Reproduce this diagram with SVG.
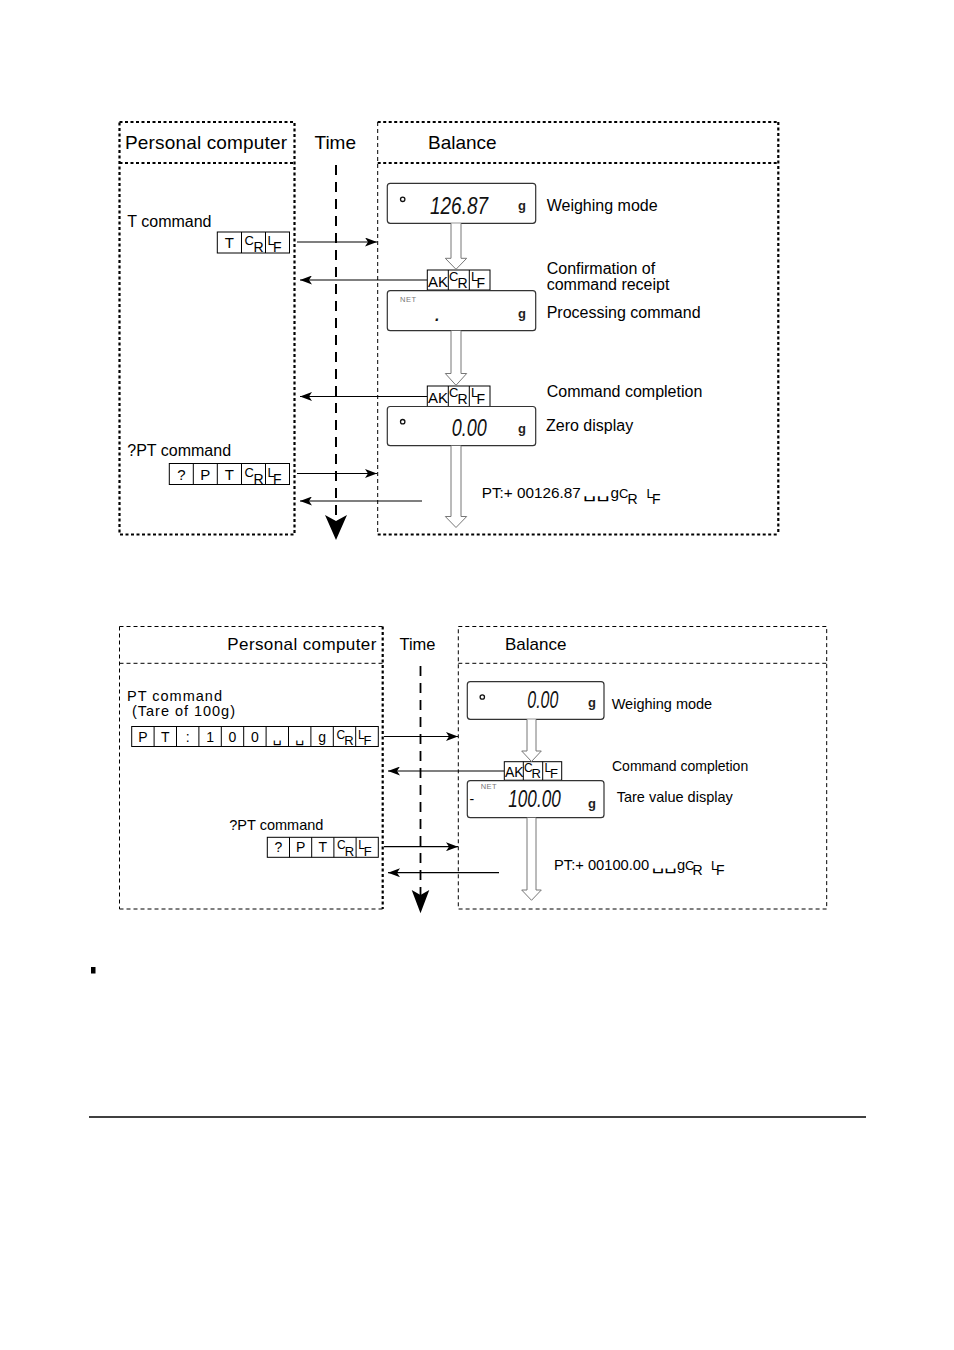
<svg xmlns="http://www.w3.org/2000/svg" width="954" height="1350" viewBox="0 0 954 1350">
<style>
text{font-family:"Liberation Sans",Arial,sans-serif;fill:#000}
.h1{font-size:19px}
.h2{font-size:17px}
.b1{font-size:16px}
.b2{font-size:14.5px}
.c1{font-size:15px}
.c2{font-size:14px}
.s12{font-size:13px}
.s14{font-size:14px}
.s11{font-size:12px}
.s13{font-size:13px}
.cell{fill:none;stroke:#000;stroke-width:1}
.disp{fill:#fff;stroke:#333;stroke-width:1.2}
.hol{fill:#fff;stroke:#777;stroke-width:1}
.msg{stroke:#000;stroke-width:1.2;fill:none}
.thick{fill:none;stroke:#000;stroke-width:2.2;stroke-dasharray:3 2.5}
.thin{fill:none;stroke:#000;stroke-width:1;stroke-dasharray:4 3}
.time1{stroke:#000;stroke-width:2;stroke-dasharray:10 7}
.time2{stroke:#000;stroke-width:1.8;stroke-dasharray:10 7}
.seg{font-family:"Liberation Sans Narrow","Liberation Sans",sans-serif;font-style:italic;font-size:23px;fill:#111}
.gs{font-size:13px;font-weight:bold;fill:#222}
.net{font-size:7.5px;fill:#777;letter-spacing:0.5px}
.sp{font-family:"DejaVu Sans",sans-serif}
</style>
<defs>
<marker id="ah" markerWidth="12" markerHeight="9" refX="12" refY="4.5" orient="auto" markerUnits="userSpaceOnUse">
<path d="M0,0 L12,4.5 L0,9 L3,4.5 z" fill="#000"/>
</marker>
</defs>

<!-- ===== Diagram 1 ===== -->
<g id="pc1">
<rect class="thick" x="119.5" y="122" width="175" height="412.5"/>
<line class="thick" x1="119.5" y1="163" x2="294.5" y2="163"/>
<text class="h1" x="125" y="149" textLength="162" lengthAdjust="spacing">Personal computer</text>
</g>
<g id="time1">
<text class="h1" x="314.5" y="149">Time</text>
<line class="time1" x1="336" y1="165" x2="336" y2="522"/>
<polygon points="325,515 336,540 347,515 336,521" fill="#000"/>
</g>
<g id="balance1">
<line class="thick" x1="377.7" y1="122" x2="778.3" y2="122"/>
<line class="thick" x1="377.7" y1="163" x2="778.3" y2="163"/>
<line class="thick" x1="778.3" y1="122" x2="778.3" y2="534.5"/>
<line class="thick" x1="377.7" y1="534.5" x2="778.3" y2="534.5"/>
<line class="thin" x1="377.7" y1="122" x2="377.7" y2="534.5"/>
<text class="h1" x="428" y="149">Balance</text>
</g>

<g id="tcmd">
<text class="b1" x="127.3" y="226.7">T command</text>
<rect class="cell" x="217.3" y="232" width="72.2" height="21"/>
<line class="cell" x1="241.5" y1="232" x2="241.5" y2="253"/>
<line class="cell" x1="265.5" y1="232" x2="265.5" y2="253"/>
<text class="c1" x="229.4" y="248" text-anchor="middle">T</text>
<text><tspan class="s12" x="244.5" y="245">C</tspan><tspan class="s14" x="253.5" y="252">R</tspan></text>
<text><tspan class="s12" x="267.5" y="245">L</tspan><tspan class="s14" x="273" y="252">F</tspan></text>
</g>

<g id="disp1">
<rect class="disp" x="387.3" y="183.3" width="148.4" height="40" rx="3"/>
<circle cx="402.7" cy="199.3" r="2.2" fill="none" stroke="#111" stroke-width="1.3"/>
<text class="seg" x="430" y="214" textLength="58" lengthAdjust="spacingAndGlyphs">126.87</text>
<text class="gs" x="518" y="209.7">g</text>
<text class="b1" x="546.7" y="211">Weighing mode</text>
</g>

<g id="ak1">
<rect class="cell" x="427.3" y="270" width="62.7" height="20"/>
<line class="cell" x1="448.3" y1="270" x2="448.3" y2="290"/>
<line class="cell" x1="469.3" y1="270" x2="469.3" y2="290"/>
<text class="c1" x="428" y="287">AK</text>
<text><tspan class="s12" x="449" y="280.5">C</tspan><tspan class="s14" x="457.5" y="287.5">R</tspan></text>
<text><tspan class="s12" x="471" y="280.5">L</tspan><tspan class="s14" x="476.5" y="287.5">F</tspan></text>
<text class="b1" x="546.7" y="273.5">Confirmation of</text>
<text class="b1" x="546.7" y="289.5">command receipt</text>
</g>

<g id="disp2">
<rect class="disp" x="387.3" y="290.7" width="148.4" height="40" rx="3"/>
<text class="net" x="400" y="301.5">NET</text>
<text class="seg" x="434.5" y="321">.</text>
<text class="gs" x="518" y="318.4">g</text>
<text class="b1" x="546.7" y="318">Processing command</text>
</g>

<g id="ak2">
<rect class="cell" x="427.3" y="386" width="62.7" height="20.5"/>
<line class="cell" x1="448.3" y1="386" x2="448.3" y2="406.5"/>
<line class="cell" x1="469.3" y1="386" x2="469.3" y2="406.5"/>
<text class="c1" x="428" y="403">AK</text>
<text><tspan class="s12" x="449" y="396.5">C</tspan><tspan class="s14" x="457.5" y="403.5">R</tspan></text>
<text><tspan class="s12" x="471" y="396.5">L</tspan><tspan class="s14" x="476.5" y="403.5">F</tspan></text>
<text class="b1" x="546.7" y="397">Command completion</text>
</g>

<g id="disp3">
<rect class="disp" x="387.3" y="406.5" width="148.4" height="39.2" rx="3"/>
<circle cx="402.7" cy="421.7" r="2.2" fill="none" stroke="#111" stroke-width="1.3"/>
<text class="seg" x="451.7" y="435.5" textLength="35" lengthAdjust="spacingAndGlyphs">0.00</text>
<text class="gs" x="518" y="433">g</text>
<text class="b1" x="546" y="431">Zero display</text>
</g>

<g id="ptq1">
<text class="b1" x="127.3" y="456">?PT command</text>
<rect class="cell" x="169.3" y="463.5" width="120.2" height="21"/>
<line class="cell" x1="193.3" y1="463.5" x2="193.3" y2="484.5"/>
<line class="cell" x1="217.3" y1="463.5" x2="217.3" y2="484.5"/>
<line class="cell" x1="241.5" y1="463.5" x2="241.5" y2="484.5"/>
<line class="cell" x1="265.5" y1="463.5" x2="265.5" y2="484.5"/>
<text class="c1" x="181.3" y="479.5" text-anchor="middle">?</text>
<text class="c1" x="205.3" y="479.5" text-anchor="middle">P</text>
<text class="c1" x="229.4" y="479.5" text-anchor="middle">T</text>
<text><tspan class="s12" x="244.5" y="476.5">C</tspan><tspan class="s14" x="253.5" y="483.5">R</tspan></text>
<text><tspan class="s12" x="267.5" y="476.5">L</tspan><tspan class="s14" x="273" y="483.5">F</tspan></text>
</g>

<g id="resp1">
<text style="font-size:15.3px" y="498.3"><tspan x="481.7">PT:+ 00126.87</tspan><tspan class="sp" x="583" textLength="27" lengthAdjust="spacingAndGlyphs">␣␣</tspan><tspan x="610.5">g</tspan></text>
<text><tspan class="s12" x="619" y="498">C</tspan><tspan class="s14" x="627.5" y="503.5">R</tspan></text>
<text><tspan class="s12" x="646.5" y="498">L</tspan><tspan class="s14" x="652" y="503.5">F</tspan></text>
</g>

<g id="connectors1">
<path class="hol" d="M451,223.3 V258.3 H445.3 L456,269.3 L466.7,258.3 H461 V223.3"/>
<path class="hol" d="M451,330.7 V373.5 H445.3 L456,385.3 L466.7,373.5 H461 V330.7"/>
<path class="hol" d="M451,445.7 V516.5 H445.3 L456,527.5 L466.7,516.5 H461 V445.7"/>
<line class="msg" x1="297" y1="242" x2="377" y2="242" marker-end="url(#ah)"/>
<line class="msg" x1="427" y1="280" x2="300" y2="280" marker-end="url(#ah)"/>
<line class="msg" x1="427" y1="396.5" x2="300" y2="396.5" marker-end="url(#ah)"/>
<line class="msg" x1="297" y1="473.5" x2="377" y2="473.5" marker-end="url(#ah)"/>
<line class="msg" x1="422" y1="501" x2="300" y2="501" marker-end="url(#ah)"/>
</g>

<!-- ===== Diagram 2 ===== -->
<g id="pc2">
<line class="thin" x1="119.5" y1="626.5" x2="382.7" y2="626.5"/>
<line class="thin" x1="119.5" y1="663.3" x2="382.7" y2="663.3"/>
<line class="thin" x1="119.5" y1="626.5" x2="119.5" y2="909"/>
<line class="thin" x1="119.5" y1="909" x2="382.7" y2="909"/>
<line class="thick" x1="382.7" y1="626.5" x2="382.7" y2="909"/>
<text class="h2" x="227.3" y="650" textLength="149" lengthAdjust="spacing">Personal computer</text>
</g>
<g id="time2">
<text class="h2" x="399.5" y="650" textLength="36" lengthAdjust="spacingAndGlyphs">Time</text>
<line class="time2" x1="420.5" y1="666" x2="420.5" y2="896"/>
<polygon points="411.7,890 420.5,913.3 429.3,890 420.5,895" fill="#000"/>
</g>
<g id="balance2">
<rect class="thin" x="458.3" y="626.5" width="368.4" height="282.5"/>
<line class="thin" x1="458.3" y1="663.3" x2="826.7" y2="663.3"/>
<text class="h2" x="505" y="650">Balance</text>
</g>

<g id="ptcmd">
<text class="b2" x="127" y="701" textLength="95" lengthAdjust="spacing">PT command</text>
<text class="b2" x="132" y="716" textLength="103" lengthAdjust="spacing">(Tare of 100g)</text>
<rect class="cell" x="131.7" y="726.5" width="246.6" height="20"/>
<line class="cell" x1="154.1" y1="726.5" x2="154.1" y2="746.5"/>
<line class="cell" x1="176.5" y1="726.5" x2="176.5" y2="746.5"/>
<line class="cell" x1="198.9" y1="726.5" x2="198.9" y2="746.5"/>
<line class="cell" x1="221.3" y1="726.5" x2="221.3" y2="746.5"/>
<line class="cell" x1="243.7" y1="726.5" x2="243.7" y2="746.5"/>
<line class="cell" x1="266.1" y1="726.5" x2="266.1" y2="746.5"/>
<line class="cell" x1="288.5" y1="726.5" x2="288.5" y2="746.5"/>
<line class="cell" x1="310.9" y1="726.5" x2="310.9" y2="746.5"/>
<line class="cell" x1="333.3" y1="726.5" x2="333.3" y2="746.5"/>
<line class="cell" x1="355.7" y1="726.5" x2="355.7" y2="746.5"/>
<text class="c2" x="142.9" y="741.5" text-anchor="middle">P</text>
<text class="c2" x="165.3" y="741.5" text-anchor="middle">T</text>
<text class="c2" x="187.7" y="741.5" text-anchor="middle">:</text>
<text class="c2" x="210.1" y="741.5" text-anchor="middle">1</text>
<text class="c2" x="232.5" y="741.5" text-anchor="middle">0</text>
<text class="c2" x="254.9" y="741.5" text-anchor="middle">0</text>
<text class="c2 sp" x="277.3" y="741.5" text-anchor="middle">␣</text>
<text class="c2 sp" x="299.7" y="741.5" text-anchor="middle">␣</text>
<text class="c2" x="322.1" y="741.5" text-anchor="middle">g</text>
<text><tspan class="s11" x="336.5" y="738.5">C</tspan><tspan class="s13" x="344.3" y="745">R</tspan></text>
<text><tspan class="s11" x="358" y="738.5">L</tspan><tspan class="s13" x="363.5" y="745">F</tspan></text>
</g>

<g id="disp4">
<rect class="disp" x="467.3" y="681.7" width="136.7" height="37.6" rx="3"/>
<circle cx="482.3" cy="697" r="2.2" fill="none" stroke="#111" stroke-width="1.3"/>
<text class="seg" x="527.3" y="708" textLength="31" lengthAdjust="spacingAndGlyphs">0.00</text>
<text class="gs" x="588" y="707">g</text>
<text class="b2" x="611.7" y="709">Weighing mode</text>
</g>

<g id="ak3">
<rect class="cell" x="504.3" y="761.7" width="57.4" height="18.5"/>
<line class="cell" x1="523.3" y1="761.7" x2="523.3" y2="780.2"/>
<line class="cell" x1="542.7" y1="761.7" x2="542.7" y2="780.2"/>
<text class="c2" x="505" y="777">AK</text>
<text><tspan class="s11" x="524" y="771.5">C</tspan><tspan class="s13" x="531.5" y="778">R</tspan></text>
<text><tspan class="s11" x="544.5" y="771.5">L</tspan><tspan class="s13" x="550" y="778">F</tspan></text>
<text style="font-size:14px" x="612" y="771">Command completion</text>
</g>

<g id="disp5">
<rect class="disp" x="467.3" y="780.7" width="136.7" height="37" rx="3"/>
<text class="net" x="480.7" y="788.5">NET</text>
<text class="c2" x="469.5" y="803.5">-</text>
<text class="seg" x="508.3" y="807" textLength="52.4" lengthAdjust="spacingAndGlyphs">100.00</text>
<text class="gs" x="588" y="808">g</text>
<text class="b2" x="616.7" y="802">Tare value display</text>
</g>

<g id="ptq2">
<text class="b2" x="229.3" y="830">?PT command</text>
<rect class="cell" x="267.3" y="837.3" width="111" height="20"/>
<line class="cell" x1="289.5" y1="837.3" x2="289.5" y2="857.3"/>
<line class="cell" x1="311.7" y1="837.3" x2="311.7" y2="857.3"/>
<line class="cell" x1="333.9" y1="837.3" x2="333.9" y2="857.3"/>
<line class="cell" x1="356.1" y1="837.3" x2="356.1" y2="857.3"/>
<text class="c2" x="278.4" y="852.3" text-anchor="middle">?</text>
<text class="c2" x="300.6" y="852.3" text-anchor="middle">P</text>
<text class="c2" x="322.8" y="852.3" text-anchor="middle">T</text>
<text><tspan class="s11" x="337" y="849.3">C</tspan><tspan class="s13" x="344.8" y="855.8">R</tspan></text>
<text><tspan class="s11" x="358.3" y="849.3">L</tspan><tspan class="s13" x="363.8" y="855.8">F</tspan></text>
</g>

<g id="resp2">
<text style="font-size:14.7px" y="869.7"><tspan x="554">PT:+ 00100.00</tspan><tspan class="sp" x="651.7" textLength="25" lengthAdjust="spacingAndGlyphs">␣␣</tspan><tspan x="677">g</tspan></text>
<text><tspan class="s12" x="685" y="869.5">C</tspan><tspan class="s14" x="692.5" y="875">R</tspan></text>
<text><tspan class="s12" x="711" y="869.5">L</tspan><tspan class="s14" x="716" y="875">F</tspan></text>
</g>

<g id="connectors2">
<path class="hol" d="M527,719.3 V751 H521.7 L531.5,761.5 L541.3,751 H536 V719.3"/>
<path class="hol" d="M527,817.7 V890 H521.7 L531.5,900.3 L541.3,890 H536 V817.7"/>
<line class="msg" x1="384" y1="736.5" x2="458" y2="736.5" marker-end="url(#ah)"/>
<line class="msg" x1="504" y1="771" x2="388" y2="771" marker-end="url(#ah)"/>
<line class="msg" x1="384" y1="846.7" x2="458" y2="846.7" marker-end="url(#ah)"/>
<line class="msg" x1="499" y1="872.7" x2="388" y2="872.7" marker-end="url(#ah)"/>
</g>

<g id="footer">
<rect x="91" y="967" width="4.5" height="6.5" fill="#000"/>
<line x1="89" y1="1117" x2="866" y2="1117" stroke="#000" stroke-width="1.3"/>
</g>
</svg>
